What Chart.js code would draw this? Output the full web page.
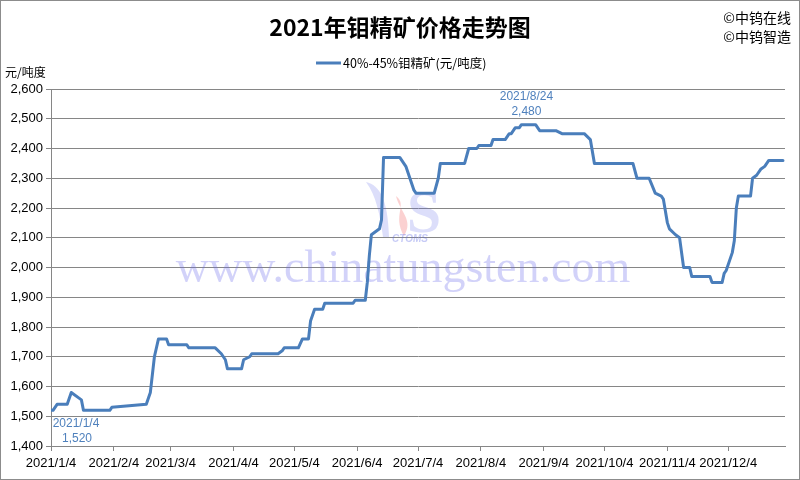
<!DOCTYPE html>
<html>
<head>
<meta charset="utf-8">
<script src="https://cdn.jsdelivr.net/npm/chart.js@4.4.0/dist/chart.umd.min.js"></script>
<style>
html,body{margin:0;padding:0;background:#fff;}
canvas{display:block;}
</style>
</head>
<body>
<canvas id="c" width="800" height="480"></canvas>
<script>
// ---------- DATA ----------
const chartTitle = '2021年钼精矿价格走势图';
const seriesName = '40%-45%钼精矿(元/吨度)';
const unitLabel = '元/吨度';
const copyrightLines = ['©中钨在线', '©中钨智造'];
const watermarkText = 'www.chinatungsten.com';
const logoText = 'CTOMS';
const startDate = '2021-01-04';
const endDate = '2022-01-01';

const dates = [
 '2021-01-04','2021-01-05','2021-01-07','2021-01-12','2021-01-14','2021-01-18','2021-01-19','2021-01-20',
 '2021-02-02','2021-02-03','2021-02-20','2021-02-22','2021-02-24','2021-02-26',
 '2021-03-02','2021-03-03','2021-03-12','2021-03-13','2021-03-26','2021-03-29','2021-03-31',
 '2021-04-01','2021-04-08','2021-04-09','2021-04-12','2021-04-13','2021-04-26','2021-04-28','2021-04-29',
 '2021-05-06','2021-05-08','2021-05-11','2021-05-12','2021-05-14','2021-05-18','2021-05-19',
 '2021-06-02','2021-06-03','2021-06-08','2021-06-09','2021-06-10','2021-06-11','2021-06-15','2021-06-16','2021-06-17',
 '2021-06-25','2021-06-28','2021-06-30','2021-07-02','2021-07-03','2021-07-12','2021-07-14','2021-07-15',
 '2021-07-27','2021-07-29','2021-08-02','2021-08-03','2021-08-09','2021-08-10','2021-08-16','2021-08-18',
 '2021-08-19','2021-08-21','2021-08-23','2021-08-24','2021-08-31','2021-09-02','2021-09-10','2021-09-13',
 '2021-09-24','2021-09-27','2021-09-29','2021-10-18','2021-10-20','2021-10-26','2021-10-29',
 '2021-11-01','2021-11-02','2021-11-04','2021-11-05','2021-11-08','2021-11-10','2021-11-12','2021-11-15',
 '2021-11-16','2021-11-25','2021-11-26','2021-12-01','2021-12-02','2021-12-03','2021-12-06','2021-12-07',
 '2021-12-08','2021-12-09','2021-12-15','2021-12-16','2021-12-18','2021-12-20','2021-12-22','2021-12-24','2021-12-31'
];
const prices = [
 1520,1520,1540,1540,1580,1560,1555,1520,
 1520,1530,1540,1580,1700,1760,
 1760,1740,1740,1730,1730,1710,1690,
 1660,1660,1690,1700,1710,1710,1720,1730,
 1730,1760,1760,1820,1860,1860,1880,
 1880,1890,1890,1950,2040,2110,2130,2160,2370,
 2370,2340,2300,2260,2250,2250,2300,2350,
 2350,2400,2400,2410,2410,2430,2430,2450,
 2450,2470,2470,2480,2480,2460,2460,2450,
 2450,2430,2350,2350,2300,2300,2250,
 2240,2230,2150,2130,2110,2100,2000,2000,
 1970,1970,1950,1950,1980,1990,2050,2090,
 2200,2240,2240,2300,2310,2330,2340,2360,2360
];
const xTickLabels = ['2021/1/4','2021/2/4','2021/3/4','2021/4/4','2021/5/4','2021/6/4',
 '2021/7/4','2021/8/4','2021/9/4','2021/10/4','2021/11/4','2021/12/4'];
const yMin = 1400, yMax = 2600, yStep = 100;
const labeledDates = ['2021-01-04', '2021-08-24'];

// ---------- HELPERS ----------
function parseYMD(s){ const p = s.split(/[-\/]/).map(Number); return Date.UTC(p[0], p[1]-1, p[2]); }
const t0 = parseYMD(startDate);
function dayOffset(s){ return Math.round((parseYMD(s) - t0) / 86400000); }
function fmtDate(s){ const p = s.split('-').map(Number); return p[0] + '/' + p[1] + '/' + p[2]; }
function fmtNum(v){ return Number(v).toLocaleString('en-US'); }
const tickOffsets = xTickLabels.map(dayOffset);

const LINE_COLOR = '#4A7EBB';
const LABEL_COLOR = '#4F81BD';
const GRID = '#868686';
const AXIS_FONT = {family: 'Liberation Sans', size: 13};

const decor = {
  id: 'decor',
  beforeDraw(chart){
    const ctx = chart.ctx;
    ctx.save();
    ctx.fillStyle = '#fff';
    ctx.fillRect(0, 0, chart.width, chart.height);
    ctx.restore();
  },
  beforeDatasetsDraw(chart){
    const ctx = chart.ctx;
    ctx.save();
    // logo (approximate)
    ctx.fillStyle = 'rgba(95,105,230,0.22)';
    ctx.beginPath();
    ctx.moveTo(366, 182);
    ctx.bezierCurveTo(380, 185, 388, 200, 389, 237);
    ctx.lineTo(383, 237);
    ctx.bezierCurveTo(380, 215, 376, 195, 366, 182);
    ctx.fill();
    ctx.fillStyle = 'rgba(240,90,90,0.28)';
    ctx.beginPath();
    ctx.moveTo(396, 196);
    ctx.bezierCurveTo(408, 205, 392, 215, 404, 236);
    ctx.bezierCurveTo(414, 220, 400, 212, 396, 196);
    ctx.fill();
    ctx.fillStyle = 'rgba(95,105,230,0.22)';
    ctx.font = 'bold 62px "Liberation Serif"';
    ctx.textAlign = 'center';
    ctx.textBaseline = 'alphabetic';
    ctx.fillText('S', 424, 232);
    ctx.font = 'italic bold 10px "Liberation Sans"';
    ctx.fillStyle = 'rgba(95,105,230,0.35)';
    ctx.fillText(logoText, 410, 242);
    // watermark text
    ctx.font = '46px "Liberation Serif"';
    ctx.fillStyle = 'rgba(105,105,235,0.30)';
    ctx.fillText(watermarkText, 403, 282);
    ctx.restore();
  },
  afterDatasetsDraw(chart){
    const ctx = chart.ctx;
    const xs = chart.scales.x, ys = chart.scales.y;
    ctx.save();
    ctx.font = '12px "Liberation Sans"';
    ctx.fillStyle = LABEL_COLOR;
    ctx.textAlign = 'center';
    ctx.textBaseline = 'middle';
    labeledDates.forEach((d, k) => {
      const i = dates.indexOf(d);
      const px = xs.getPixelForValue(dayOffset(d));
      const py = ys.getPixelForValue(prices[i]);
      if (k === 0) {
        ctx.fillText(fmtDate(d), px + 25, py + 13);
        ctx.fillText(fmtNum(prices[i]), px + 26, py + 28);
      } else {
        ctx.fillText(fmtDate(d), px + 5, py - 28);
        ctx.fillText(fmtNum(prices[i]), px + 5, py - 13);
      }
    });
    ctx.restore();
  },
  afterDraw(chart){
    const ctx = chart.ctx;
    ctx.save();
    // title
    ctx.fillStyle = '#000';
    ctx.textAlign = 'center';
    ctx.textBaseline = 'middle';
    ctx.font = 'bold 23px "Noto Sans CJK SC"';
    ctx.fillText(chartTitle, 400, 27);
    // copyright
    ctx.textAlign = 'right';
    ctx.font = '14px "Noto Sans CJK SC"';
    ctx.fillText(copyrightLines[0], 791, 18);
    ctx.fillText(copyrightLines[1], 791, 37);
    // legend
    ctx.strokeStyle = LINE_COLOR;
    ctx.lineWidth = 3;
    ctx.beginPath();
    ctx.moveTo(316, 63);
    ctx.lineTo(341, 63);
    ctx.stroke();
    ctx.textAlign = 'left';
    ctx.font = '12.5px "Noto Sans CJK SC"';
    ctx.fillText(seriesName, 343, 63);
    // unit
    ctx.font = '12px "Noto Sans CJK SC"';
    ctx.fillText(unitLabel, 5, 72);
    // border
    ctx.strokeStyle = '#8c8c8c';
    ctx.lineWidth = 1;
    ctx.strokeRect(0.5, 0.5, chart.width - 1, chart.height - 1);
    ctx.restore();
  }
};

new Chart(document.getElementById('c'), {
  type: 'line',
  data: {
    datasets: [{
      label: seriesName,
      data: dates.map((d, i) => ({x: dayOffset(d), y: prices[i]})),
      borderColor: LINE_COLOR,
      backgroundColor: LINE_COLOR,
      borderWidth: 3,
      borderJoinStyle: 'round',
      borderCapStyle: 'round',
      pointRadius: 0,
      tension: 0,
      fill: false
    }]
  },
  options: {
    responsive: false,
    animation: false,
    devicePixelRatio: 1,
    layout: {padding: {top: 89, right: 15, left: 0, bottom: 0}},
    plugins: {legend: {display: false}, title: {display: false}, tooltip: {enabled: false}},
    scales: {
      x: {
        type: 'linear',
        min: 0,
        max: dayOffset(endDate),
        afterBuildTicks: s => { s.ticks = tickOffsets.map(v => ({value: v})); },
        afterFit: s => { s.height = 34; },
        ticks: {
          autoSkip: false, maxRotation: 0, minRotation: 0,
          font: AXIS_FONT, color: '#000', padding: 5,
          callback: v => { const i = tickOffsets.indexOf(v); return i >= 0 ? xTickLabels[i] : ''; }
        },
        grid: {drawOnChartArea: false, drawTicks: true, tickLength: 5, color: GRID},
        border: {color: GRID, width: 1}
      },
      y: {
        min: yMin, max: yMax,
        afterFit: s => { s.width = 51; },
        ticks: {stepSize: yStep, font: AXIS_FONT, color: '#000', padding: 3,
          callback: v => fmtNum(v)},
        grid: {color: GRID, tickLength: 5, lineWidth: 1},
        border: {color: GRID, width: 1}
      }
    }
  },
  plugins: [decor]
});
</script>
</body>
</html>
